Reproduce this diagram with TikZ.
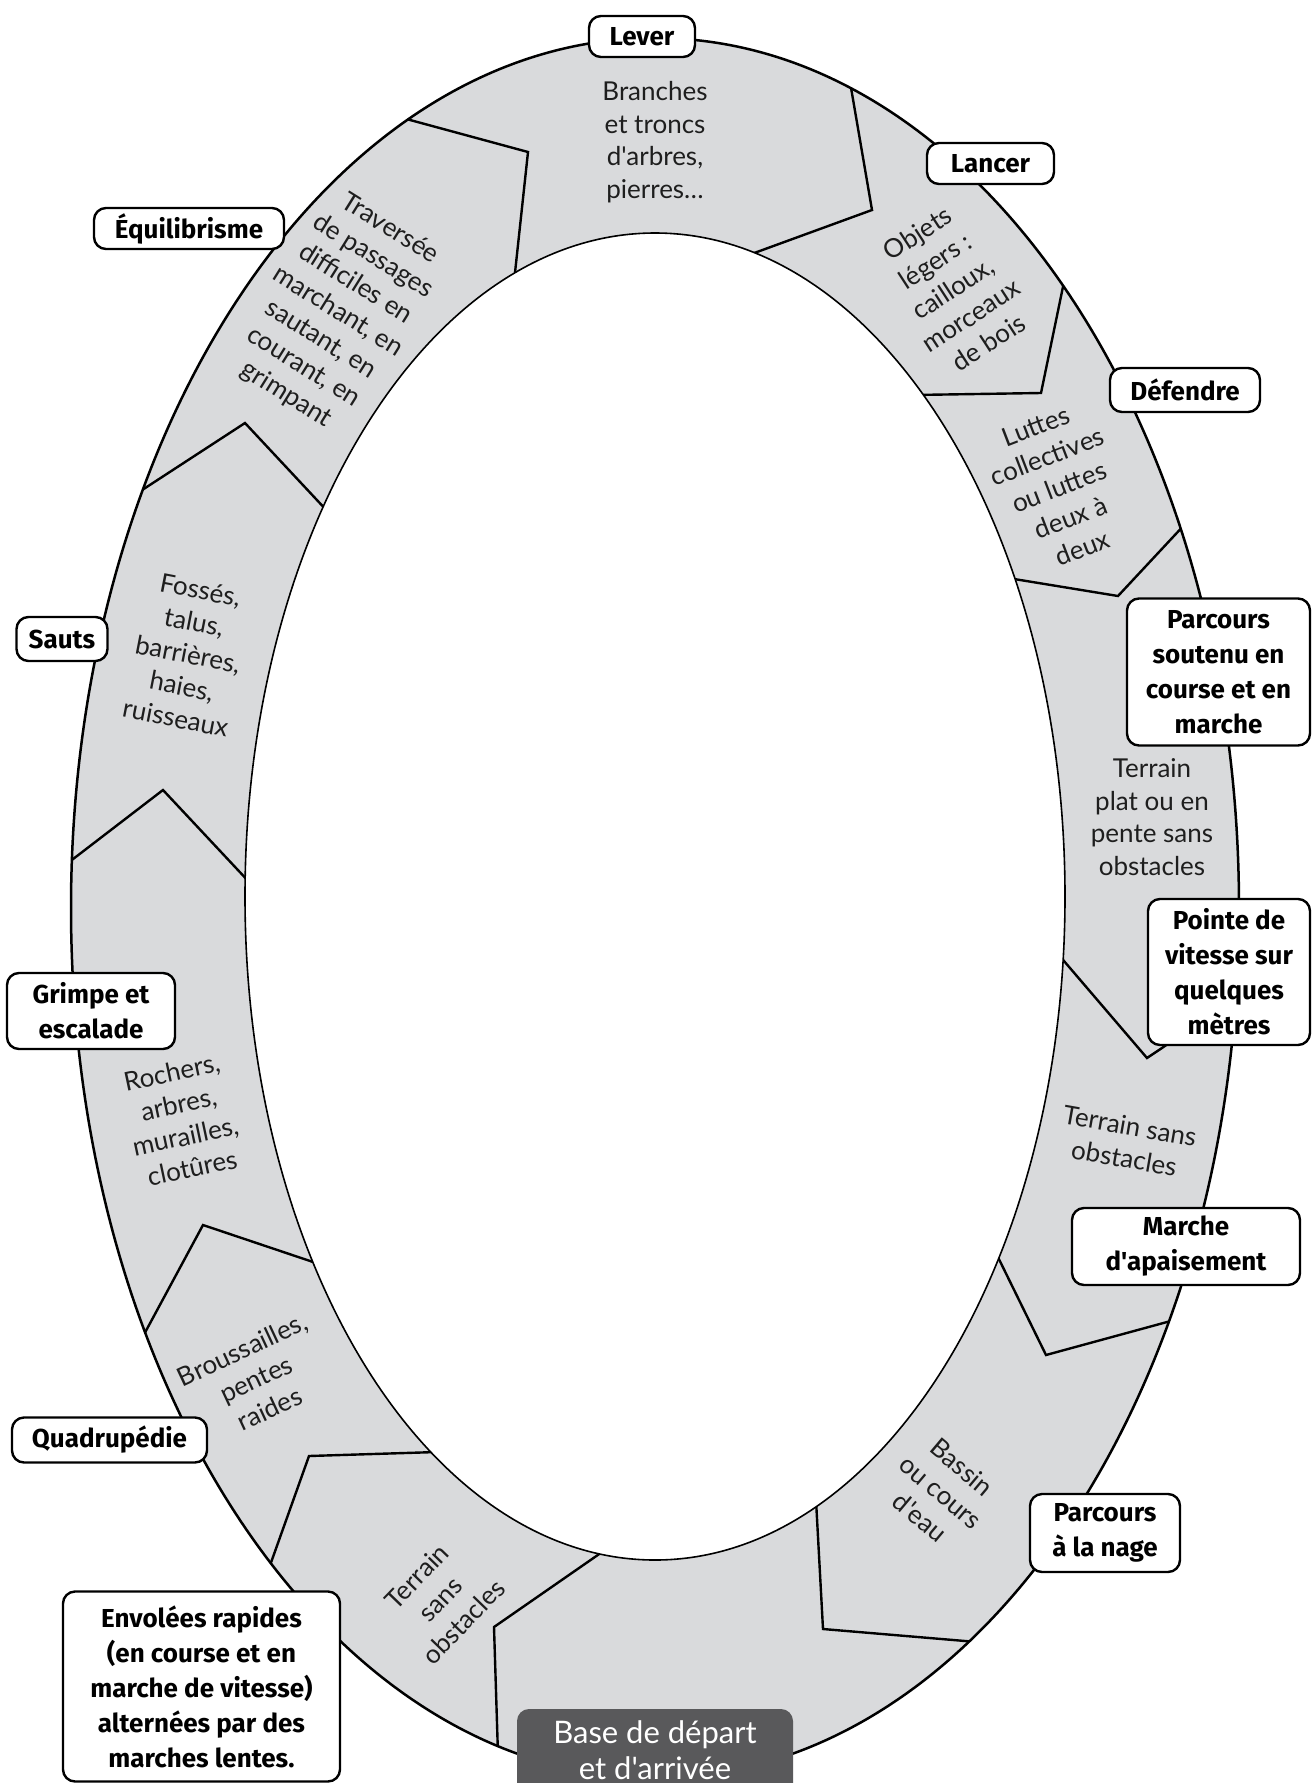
\documentclass[tikz,border=0pt]{standalone}
\usepackage{fontspec}
\newfontfamily\segfont{Lato}
\newfontfamily\labfont{Fira Sans}
\definecolor{ringgray}{HTML}{D9DADC}
\definecolor{basegray}{HTML}{59595B}
\definecolor{ink}{HTML}{1E1E1E}
\begin{document}
\begin{tikzpicture}[x=0.5pt,y=-0.5pt,
  divline/.style={line width=1.2pt,line join=miter},
  seg/.style={font=\segfont\fontsize{13}{16.3}\selectfont,align=center,inner sep=0pt,text=ink},
  lab/.style={draw,line width=1.2pt,fill=white,rounded corners=6pt,inner sep=0pt,
    font=\labfont\bfseries\fontsize{13}{17.5}\selectfont,align=center},
  basebox/.style={fill=basegray,rounded corners=6pt,inner sep=0pt},
  basetext/.style={font=\segfont\fontsize{15.5}{18}\selectfont,align=center,text=white,inner sep=0pt}]
\useasboundingbox (0,0) rectangle (1312,1783);
% ring
\fill[ringgray,even odd rule] (655,908) ellipse[x radius=292pt,y radius=435pt]
  (655,896.5) ellipse[x radius=205pt,y radius=331.75pt];
% dividers
\begin{scope}[even odd rule]
\clip (655,908) ellipse[x radius=292pt,y radius=435pt]
  (655,896.5) ellipse[x radius=205pt,y radius=331.75pt];
\draw[divline] (399,117) -- (528,152) -- (514,282);
\draw[divline] (849,76) -- (872,210) -- (746,256);
\draw[divline] (1065,277) -- (1041,393) -- (913,395);
\draw[divline] (1187,522) -- (1118,596) -- (1008,578);
\draw[divline] (1058,954) -- (1147,1058) -- (1250,989);
\draw[divline] (993,1247) -- (1046,1355) -- (1178,1319);
\draw[divline] (816,1500) -- (823,1629) -- (977,1642);
\draw[divline] (605,1550) -- (494,1627) -- (498,1755);
\draw[divline] (437,1452) -- (309,1456) -- (268,1571);
\draw[divline] (141,1340) -- (203,1225) -- (322,1265);
\draw[divline] (64,866) -- (163,790) -- (251,884);
\draw[divline] (330,514) -- (245,423) -- (136,494);
\end{scope}
\draw[line width=1.25pt] (655,908) ellipse[x radius=292pt,y radius=435pt];
\draw[line width=0.8pt] (655,896.5) ellipse[x radius=205pt,y radius=331.75pt];
% segment texts
\node[seg] (tbranches) at (655,142) {Branches\\et troncs\\d'arbres,\\pierres…};
\node[seg,rotate=33] (tobjets) at (953,288) {Objets\\légers :\\cailloux,\\morceaux\\de bois};
\node[seg,rotate=21] (tluttes) at (1059,487) {Luttes\\collectives\\ou luttes\\deux à\\deux};
\node[seg] (tplat) at (1152,817) {Terrain\\plat ou en\\pente sans\\obstacles};
\node[seg,rotate=-10] (tsans) at (1127,1142) {Terrain sans\\obstacles};
\node[seg,rotate=-40] (tbassin) at (941,1492) {Bassin\\ou cours\\d'eau};
\node[seg,rotate=46] (tsans2) at (440,1599) {Terrain\\sans\\obstacles};
\node[seg,rotate=25] (tbrous) at (256,1379) {Broussailles,\\pentes\\raides};
\node[seg,rotate=12] (trochers) at (182,1120) {Rochers,\\arbres,\\murailles,\\clotûres};
\node[seg,rotate=-11] (tfosses) at (188,654) {Fossés,\\talus,\\barrières,\\haies,\\ruisseaux};
\node[seg,rotate=-32] (ttrav) at (338,312) {Traversée\\de passages\\difficiles en\\marchant, en\\sautant, en\\courant, en\\grimpant};
% labels
\node[lab,minimum width=53pt,minimum height=20.5pt] (lever) at (642,36.5) {Lever};
\node[lab,minimum width=63.5pt,minimum height=20.5pt] (lancer) at (990.5,163.5) {Lancer};
\node[lab,minimum width=95pt,minimum height=20.5pt] (equil) at (189,228.5) {Équilibrisme};
\node[lab,minimum width=75pt,minimum height=22pt] (defendre) at (1185,390) {Défendre};
\node[lab,minimum width=45.5pt,minimum height=22pt] (sauts) at (62,639) {Sauts};
\node[lab,minimum width=91.5pt,minimum height=73.5pt] (soutenu) at (1218.5,672) {Parcours\\soutenu en\\course et en\\marche};
\node[lab,minimum width=81pt,minimum height=73pt] (pointe) at (1229,972) {Pointe de\\vitesse sur\\quelques\\mètres};
\node[lab,minimum width=84pt,minimum height=38pt] (grimpe) at (91,1011) {Grimpe et\\escalade};
\node[lab,minimum width=114pt,minimum height=38.5pt] (marche) at (1186,1246.5) {Marche\\d'apaisement};
\node[lab,minimum width=97.5pt,minimum height=22.5pt] (quadru) at (109.5,1440) {Quadrupédie};
\node[lab,minimum width=75pt,minimum height=39pt] (nage) at (1105,1533) {Parcours\\à la nage};
\node[lab,minimum width=138.5pt,minimum height=95pt] (envol) at (201.5,1686.5) {Envolées rapides\\(en course et en\\marche de vitesse)\\alternées par des\\marches lentes.};
\node[basebox,minimum width=138pt,minimum height=45.5pt] (base) at (655,1754.5) {};
\node[basetext] (basetxt) at (655,1750) {Base de départ\\et d'arrivée};
\end{tikzpicture}
\end{document}
